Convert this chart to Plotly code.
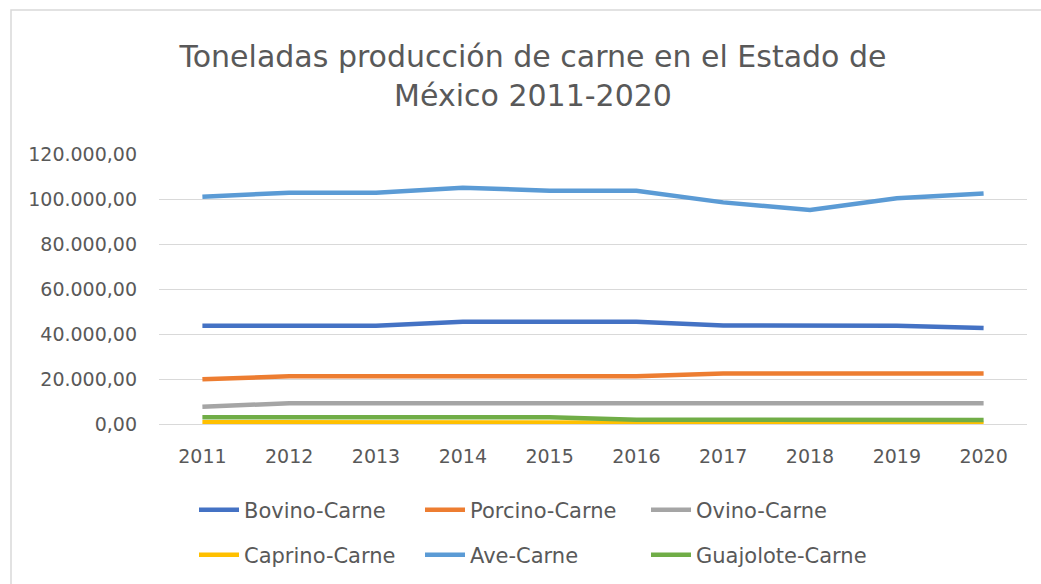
import plotly.graph_objects as go

years = ["2011", "2012", "2013", "2014", "2015", "2016", "2017", "2018", "2019", "2020"]

bovino = [43700, 43700, 43700, 45500, 45500, 45500, 43800, 43700, 43700, 42700]
porcino = [19850, 21200, 21200, 21200, 21200, 21200, 22500, 22500, 22500, 22500]
ovino = [7700, 9200, 9200, 9200, 9200, 9200, 9200, 9200, 9200, 9200]
caprino = [800, 800, 800, 800, 800, 600, 500, 500, 500, 100]
ave = [101000, 102800, 102800, 105000, 103700, 103700, 98500, 95100, 100300, 102500]
guajolote = [3000, 3000, 3000, 3000, 3000, 1900, 1900, 1900, 1900, 1800]

series = [
    ("Bovino-Carne", bovino, "#4472C4", "legend"),
    ("Porcino-Carne", porcino, "#ED7D31", "legend"),
    ("Ovino-Carne", ovino, "#A5A5A5", "legend"),
    ("Caprino-Carne", caprino, "#FFC000", "legend2"),
    ("Ave-Carne", ave, "#5B9BD5", "legend2"),
    ("Guajolote-Carne", guajolote, "#70AD47", "legend2"),
]

FONT = "DejaVu Sans, sans-serif"
GREY = "#595959"

fig = go.Figure()
for name, vals, color, lg in series:
    fig.add_trace(go.Scatter(
        x=years, y=vals, name=name, mode="lines",
        line=dict(color=color, width=4.5),
        legend=lg,
    ))

W, H = 1041, 584
L, R, T, B = 159, 14, 154, 160
pw, ph = W - L - R, H - T - B

def px_x(x):
    return (x - L) / pw

def px_y(y):
    return (H - B - y) / ph

legend_common = dict(
    orientation="h", xanchor="left", yanchor="middle",
    xref="container", yref="container",
    font=dict(family=FONT, size=21, color=GREY),
    entrywidth=171, entrywidthmode="pixels",
    itemwidth=40, bgcolor="rgba(0,0,0,0)",
    traceorder="normal",
)

fig.update_layout(
    width=W, height=H,
    margin=dict(l=L, r=R, t=T, b=B, autoexpand=False),
    paper_bgcolor="white", plot_bgcolor="white",
    separators=",.",
    font=dict(family=FONT, color=GREY),
    title=dict(
        text="Toneladas producción de carne en el Estado de<br>México 2011-2020",
        x=533 / W, xanchor="center", xref="container",
        y=1 - 67 / H, yanchor="top", yref="container",
        font=dict(family=FONT, size=30, color=GREY),
    ),
    xaxis=dict(
        type="category", range=[-0.5, 9.5],
        showgrid=False, showline=True, linecolor="#D9D9D9", linewidth=1,
        ticks="", tickfont=dict(family=FONT, size=19, color=GREY),
        ticklabelstandoff=15,
    ),
    yaxis=dict(
        range=[0, 120000], dtick=20000, tickformat=",.2f",
        showgrid=True, gridcolor="#D9D9D9", gridwidth=1,
        zeroline=False, showline=False, ticks="",
        tickfont=dict(family=FONT, size=19, color=GREY),
        ticklabelstandoff=21,
    ),
    legend=dict(x=194 / W, y=1 - 510 / H, **legend_common),
    legend2=dict(x=194 / W, y=1 - 555 / H, **legend_common),
    shapes=[dict(
        type="rect", xref="paper", yref="paper",
        x0=px_x(11), x1=1.3, y0=-1.5, y1=px_y(10),
        line=dict(color="#D9D9D9", width=1.5), layer="below",
    )],
)

fig.write_html("out.html", config={"displayModeBar": False},
               post_script="document.body.style.margin='0';")
